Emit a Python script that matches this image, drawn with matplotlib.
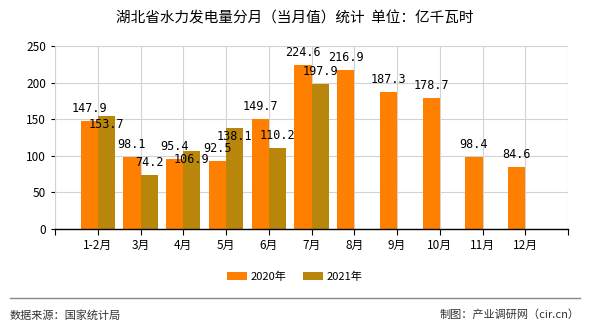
import matplotlib
matplotlib.use("Agg")
import matplotlib.pyplot as plt
import numpy as np

plt.rcParams['font.family'] = ['Noto Sans CJK SC', 'DejaVu Sans']

months = ["1-2月", "3月", "4月", "5月", "6月", "7月", "8月", "9月", "10月", "11月", "12月"]
values_2020 = [147.9, 98.1, 95.4, 92.5, 149.7, 224.6, 216.9, 187.3, 178.7, 98.4, 84.6]
values_2021 = [153.7, 74.2, 106.9, 138.1, 110.2, 197.9]

c2020 = "#FF7F00"
c2021 = "#B8860B"

fig = plt.figure(figsize=(5.9, 3.3), dpi=100)
ax = fig.add_axes([55 / 590, 1 - 229 / 330, 513 / 590, 183 / 330])

x = np.arange(1, len(months) + 1)
w = 0.4
ax.bar(x - w / 2, values_2020, width=w, color=c2020, zorder=2, label="2020年")
x21 = x[:len(values_2021)]
ax.bar(x21 + w / 2, values_2021, width=w, color=c2021, zorder=2, label="2021年")

# value labels; 2021 label drops inside the bar when it would hit the 2020 one
for xi, v in zip(x, values_2020):
    ax.annotate(f"{v}", (xi - w / 2, v), xytext=(0, 9), textcoords="offset points",
                ha="center", va="center", fontsize=8.5, family="DejaVu Sans Mono")
for xi, v, v0 in zip(x21, values_2021, values_2020):
    dy = -6 if v > v0 else 9
    ax.annotate(f"{v}", (xi + w / 2, v), xytext=(0, dy), textcoords="offset points",
                ha="center", va="center", fontsize=8.5, family="DejaVu Sans Mono")

ax.set_xlim(0, 12)
ax.set_ylim(0, 250)
ax.set_xticks(range(0, 13))
ax.set_xticklabels([""] + months + [""], fontsize=8.5)
ax.set_yticks(range(0, 251, 50))
ax.tick_params(axis="y", labelsize=8.5, length=3)
ax.tick_params(axis="x", length=4)
ax.grid(True, color="#D3D3D3", linewidth=0.8, zorder=0)
for s in ["top", "right"]:
    ax.spines[s].set_visible(False)
ax.spines["bottom"].set_linewidth(1.0)
ax.spines["left"].set_color("#D3D3D3")

fig.text(0.5, 1 - 18 / 330, "湖北省水力发电量分月（当月值）统计  单位：亿千瓦时",
         ha="center", va="center", fontsize=10.5)

fig.legend(loc="center", bbox_to_anchor=(0.5, 1 - 277 / 330), ncol=2, frameon=False,
           fontsize=8, handlelength=1.8, handleheight=0.7, columnspacing=1.5,
           handletextpad=0.3)

fig.add_artist(plt.Line2D([10 / 590, 580 / 590], [1 - 298 / 330] * 2,
                          color="#888888", linewidth=1))
fig.text(10 / 590, 1 - 315 / 330, "数据来源：国家统计局", ha="left", va="center",
         fontsize=8, color="#333333")
fig.text(580 / 590, 1 - 315 / 330, "制图：产业调研网（cir.cn）", ha="right", va="center",
         fontsize=8, color="#333333")

fig.savefig("out.png", dpi=100)
